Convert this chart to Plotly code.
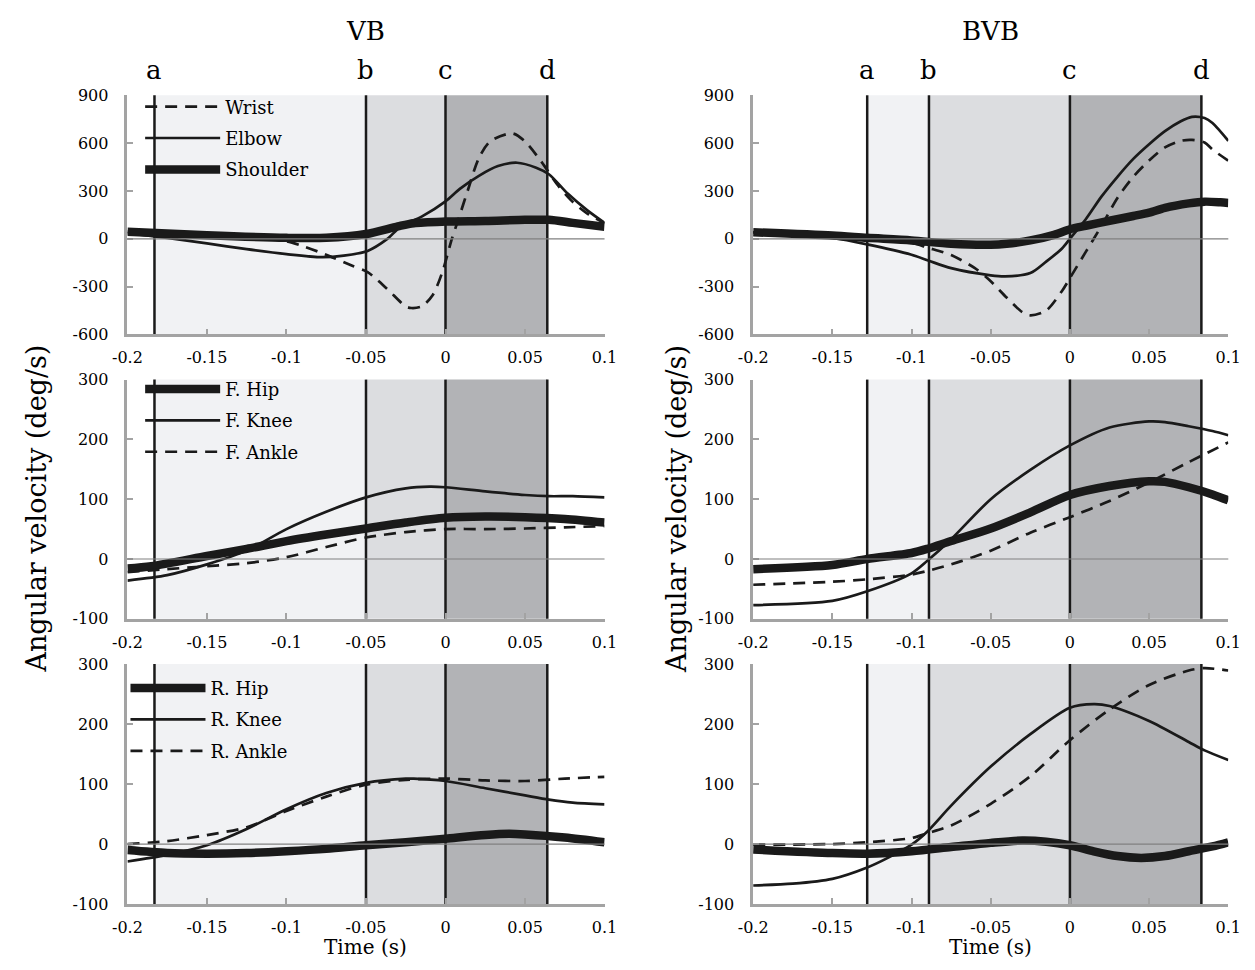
import plotly.graph_objects as go

# ---------------- data ----------------
# event times (a, b, c, d)
vb_events = [-0.183, -0.050, 0.0, 0.064]
bvb_events = [-0.128, -0.089, 0.0, 0.083]
event_labels = ["a", "b", "c", "d"]

# VB upper limb
vb_wrist_t = [-0.2, -0.175, -0.15, -0.125, -0.1, -0.09, -0.076, -0.059, -0.049, -0.037, -0.025, -0.0215,
              -0.015, -0.008, -0.002, 0.004, 0.008, 0.014, 0.021, 0.028, 0.042, 0.05, 0.06, 0.07, 0.079, 0.089, 0.1]
vb_wrist_v = [45, 35, 25, 12, -15, -45, -96, -168, -209, -311, -424, -434,
              -424, -352, -209, 0, 119, 303, 507, 610, 661, 610, 487, 344, 241, 160, 98]
vb_elbow_t = [-0.2, -0.175, -0.15, -0.125, -0.1, -0.078, -0.064, -0.049, -0.037, -0.028, -0.015, 0,
              0.009, 0.021, 0.033, 0.045, 0.057, 0.065, 0.077, 0.089, 0.1]
vb_elbow_v = [35, 5, -29, -65, -96, -115, -105, -76, -4, 78, 139, 235,
              313, 395, 456, 477, 446, 405, 282, 180, 100]
vb_shoulder_t = [-0.2, -0.15, -0.1, -0.075, -0.05, -0.03, -0.02, 0, 0.025, 0.05, 0.065, 0.08, 0.1]
vb_shoulder_v = [45, 22, 6, 6, 30, 78, 98, 108, 112, 119, 119, 100, 75]

# BVB upper limb
bvb_wrist_t = [-0.2, -0.15, -0.128, -0.1, -0.09, -0.075, -0.06, -0.05, -0.04, -0.03, -0.025, -0.015,
               -0.005, 0, 0.01, 0.02, 0.03, 0.04, 0.05, 0.06, 0.07, 0.077, 0.085, 0.09, 0.1]
bvb_wrist_v = [40, 20, 8, -25, -55, -102, -184, -266, -368, -460, -480, -450,
               -327, -246, -82, 82, 256, 389, 491, 573, 614, 620, 604, 560, 490]
bvb_elbow_t = [-0.2, -0.175, -0.15, -0.128, -0.1, -0.089, -0.075, -0.05, -0.041, -0.025, -0.015, -0.005,
               0, 0.01, 0.02, 0.03, 0.04, 0.05, 0.06, 0.07, 0.077, 0.085, 0.09, 0.1]
bvb_elbow_v = [41, 25, 5, -35, -100, -138, -184, -229, -236, -215, -143, -61,
               0, 123, 266, 389, 501, 593, 675, 737, 765, 757, 726, 614]
bvb_shoulder_t = [-0.2, -0.15, -0.128, -0.1, -0.075, -0.05, -0.04, -0.025, -0.01, 0, 0.01, 0.025, 0.04,
                  0.05, 0.06, 0.075, 0.085, 0.095, 0.1]
bvb_shoulder_v = [41, 20, 6, -10, -31, -37, -31, -10, 25, 60, 82, 113, 143,
                  164, 194, 222, 233, 229, 225]

# VB front leg
vb_fhip_t = [-0.2, -0.185, -0.15, -0.125, -0.1, -0.075, -0.05, -0.025, 0, 0.025, 0.05, 0.075, 0.1]
vb_fhip_v = [-16, -12, 5, 17, 30, 41, 51, 61, 69, 71, 70, 67, 61]
vb_fknee_t = [-0.2, -0.175, -0.15, -0.125, -0.1, -0.075, -0.05, -0.025, -0.01, 0, 0.025, 0.05, 0.065, 0.08, 0.1]
vb_fknee_v = [-36, -27, -9, 14, 50, 79, 103, 118, 121, 120, 113, 107, 105, 105, 103]
vb_fankle_t = [-0.2, -0.175, -0.15, -0.125, -0.1, -0.075, -0.05, -0.025, 0, 0.025, 0.05, 0.075, 0.1]
vb_fankle_v = [-22, -17, -12, -7, 3, 20, 36, 45, 50, 50, 51, 53, 55]

# BVB front leg
bvb_fhip_t = [-0.2, -0.15, -0.128, -0.1, -0.09, -0.075, -0.05, -0.025, 0, 0.025, 0.05, 0.06, 0.075, 0.09, 0.1]
bvb_fhip_v = [-17, -10, 0, 10, 17, 30, 51, 78, 107, 122, 130, 129, 120, 108, 98]
bvb_fknee_t = [-0.2, -0.15, -0.128, -0.1, -0.09, -0.075, -0.05, -0.025, 0, 0.025, 0.05, 0.06, 0.075, 0.09, 0.1]
bvb_fknee_v = [-77, -70, -54, -24, -3, 33, 100, 149, 190, 220, 230, 229, 222, 214, 207]
bvb_fankle_t = [-0.2, -0.15, -0.128, -0.1, -0.09, -0.075, -0.05, -0.025, 0, 0.025, 0.05, 0.075, 0.1]
bvb_fankle_v = [-43, -38, -34, -26, -20, -9, 14, 44, 70, 97, 128, 162, 195]

# VB rear leg
vb_rhip_t = [-0.2, -0.175, -0.15, -0.125, -0.1, -0.075, -0.05, -0.025, 0, 0.025, 0.04, 0.05, 0.075, 0.1]
vb_rhip_v = [-10, -15, -16, -15, -12, -8, -2, 3, 9, 15, 17, 16, 11, 3]
vb_rknee_t = [-0.2, -0.175, -0.15, -0.125, -0.1, -0.075, -0.05, -0.025, -0.02, 0, 0.025, 0.05, 0.065, 0.08, 0.1]
vb_rknee_v = [-29, -18, -2, 25, 58, 85, 102, 109, 109, 105, 93, 81, 74, 69, 66]
vb_rankle_t = [-0.2, -0.175, -0.15, -0.125, -0.1, -0.075, -0.05, -0.025, 0, 0.025, 0.05, 0.075, 0.1]
vb_rankle_v = [0, 5, 15, 28, 55, 79, 99, 107, 109, 106, 105, 109, 112]

# BVB rear leg
bvb_rhip_t = [-0.2, -0.15, -0.128, -0.1, -0.075, -0.05, -0.03, -0.015, 0, 0.015, 0.03, 0.045, 0.06, 0.075, 0.09, 0.1]
bvb_rhip_v = [-9, -15, -16, -12, -5, 2, 6, 4, -2, -12, -20, -23, -20, -12, -4, 3]
bvb_rknee_t = [-0.2, -0.175, -0.15, -0.128, -0.115, -0.1, -0.09, -0.075, -0.05, -0.025, 0, 0.015, 0.025,
               0.05, 0.075, 0.085, 0.1]
bvb_rknee_v = [-69, -66, -58, -39, -23, -1, 21, 64, 129, 183, 227, 233, 230, 205, 170, 156, 140]
bvb_rankle_t = [-0.2, -0.15, -0.128, -0.1, -0.09, -0.075, -0.05, -0.025, 0, 0.025, 0.05, 0.075, 0.085, 0.1]
bvb_rankle_v = [-1, 0, 3, 10, 18, 31, 67, 113, 173, 224, 265, 289, 293, 289]

x_tickvals = [-0.2, -0.15, -0.1, -0.05, 0, 0.05, 0.1]
x_ticktext = ["-0.2", "-0.15", "-0.1", "-0.05", "0", "0.05", "0.1"]
arm_tickvals = [-600, -300, 0, 300, 600, 900]
arm_ticktext = ["-600", "-300", "0", "300", "600", "900"]
leg_tickvals = [-100, 0, 100, 200, 300]
leg_ticktext = ["-100", "0", "100", "200", "300"]

# ---------------- styling ----------------
FONT = "DejaVu Serif"
W, H = 1255, 970
INK = "#1a1a1a"
AXIS_GREY = "#a3a3a3"
SHADES = ["#f1f2f4", "#dcdde0", "#b2b3b6"]

styles = {
    "thick": dict(color=INK, width=8.5),
    "thin": dict(color=INK, width=2.7),
    "dash": dict(color=INK, width=2.7, dash="12px,8px"),
}

col_dom = [[115 / W, 603 / W], [755 / W, 1241 / W]]
row_px = [(88, 332), (378, 622), (668, 913)]
row_dom = [[1 - b / H, 1 - t / H] for t, b in row_px]

fig = go.Figure()

panels = [
    (0, 0, [("Wrist", vb_wrist_t, vb_wrist_v, "dash"), ("Elbow", vb_elbow_t, vb_elbow_v, "thin"),
            ("Shoulder", vb_shoulder_t, vb_shoulder_v, "thick")], vb_events, "legend"),
    (0, 1, [("Wrist", bvb_wrist_t, bvb_wrist_v, "dash"), ("Elbow", bvb_elbow_t, bvb_elbow_v, "thin"),
            ("Shoulder", bvb_shoulder_t, bvb_shoulder_v, "thick")], bvb_events, None),
    (1, 0, [("F. Hip", vb_fhip_t, vb_fhip_v, "thick"), ("F. Knee", vb_fknee_t, vb_fknee_v, "thin"),
            ("F. Ankle", vb_fankle_t, vb_fankle_v, "dash")], vb_events, "legend2"),
    (1, 1, [("F. Hip", bvb_fhip_t, bvb_fhip_v, "thick"), ("F. Knee", bvb_fknee_t, bvb_fknee_v, "thin"),
            ("F. Ankle", bvb_fankle_t, bvb_fankle_v, "dash")], bvb_events, None),
    (2, 0, [("R. Hip", vb_rhip_t, vb_rhip_v, "thick"), ("R. Knee", vb_rknee_t, vb_rknee_v, "thin"),
            ("R. Ankle", vb_rankle_t, vb_rankle_v, "dash")], vb_events, "legend3"),
    (2, 1, [("R. Hip", bvb_rhip_t, bvb_rhip_v, "thick"), ("R. Knee", bvb_rknee_t, bvb_rknee_v, "thin"),
            ("R. Ankle", bvb_rankle_t, bvb_rankle_v, "dash")], bvb_events, None),
]

shapes = []
annotations = []
layout = {}

for i, (r, c, series, ev, leg) in enumerate(panels):
    n = i + 1
    xa = "x" if n == 1 else f"x{n}"
    ya = "y" if n == 1 else f"y{n}"
    xkey = "xaxis" if n == 1 else f"xaxis{n}"
    ykey = "yaxis" if n == 1 else f"yaxis{n}"
    for j, (name, t, v, st) in enumerate(series):
        fig.add_trace(go.Scatter(
            x=t, y=v, mode="lines", name=name, line=dict(shape="spline", smoothing=0.8, **styles[st]),
            xaxis=xa, yaxis=ya, showlegend=leg is not None, legend=leg if leg else "legend",
            legendgroup=f"{leg}_{j}" if leg else None, hoverinfo="skip"))
    for k in range(3):
        shapes.append(dict(type="rect", xref=xa, yref=f"{ya} domain", x0=ev[k], x1=ev[k + 1], y0=0, y1=1,
                           fillcolor=SHADES[k], line=dict(width=0), layer="below"))
    for e in ev:
        shapes.append(dict(type="line", xref=xa, yref=f"{ya} domain", x0=e, x1=e, y0=0, y1=1,
                           line=dict(color=INK, width=2.5), layer="below"))
    shapes.append(dict(type="line", xref=f"{xa} domain", yref=ya, x0=0, x1=1, y0=0, y1=0,
                       line=dict(color="#808080", width=1.2), layer="above"))
    arm = r == 0
    layout[xkey] = dict(domain=col_dom[c], anchor=ya, range=[-0.2, 0.1], tickvals=x_tickvals,
                        ticktext=x_ticktext, showline=True, linecolor=AXIS_GREY, linewidth=2.5,
                        ticks="inside", ticklen=6, tickwidth=2, tickcolor=AXIS_GREY, showgrid=False,
                        zeroline=False, ticklabelstandoff=7,
                        tickfont=dict(family=FONT, size=16, color="black"))
    layout[ykey] = dict(domain=row_dom[r], anchor=xa,
                        range=[-600, 900] if arm else [-100, 300],
                        tickvals=arm_tickvals if arm else leg_tickvals,
                        ticktext=arm_ticktext if arm else leg_ticktext,
                        showline=True, linecolor=AXIS_GREY, linewidth=2.5, ticks="inside", ticklen=6,
                        tickwidth=2, tickcolor=AXIS_GREY, showgrid=False, zeroline=False,
                        ticklabelstandoff=13,
                        tickfont=dict(family=FONT, size=16, color="black"))
    if r == 0:
        for e, lab in zip(ev, event_labels):
            annotations.append(dict(x=e, xref=xa, y=1 - 62 / H, yref="paper", text=lab, showarrow=False,
                                    xanchor="center", yanchor="middle",
                                    font=dict(family=FONT, size=26, color="black")))

for c, title in enumerate(["VB", "BVB"]):
    xc = (col_dom[c][0] + col_dom[c][1]) / 2
    annotations.append(dict(x=xc, y=1 - 22 / H, xref="paper", yref="paper", text=title, showarrow=False,
                            xanchor="center", yanchor="middle",
                            font=dict(family=FONT, size=26, color="black")))
    annotations.append(dict(x=xc, y=1 - 957 / H, xref="paper", yref="paper", text="Time (s)", showarrow=False,
                            xanchor="center", yanchor="middle",
                            font=dict(family=FONT, size=20, color="black")))
for xp in [22, 676]:
    annotations.append(dict(x=xp / W, y=1 - 510 / H, xref="paper", yref="paper",
                            text="Angular velocity (deg/s)", textangle=-90, showarrow=False,
                            xanchor="center", yanchor="middle",
                            font=dict(family=FONT, size=27, color="black")))

leg_common = dict(bgcolor="rgba(0,0,0,0)", font=dict(family=FONT, size=18, color="black"),
                  traceorder="grouped", tracegroupgap=5, itemwidth=75, xanchor="left", yanchor="top")

fig.update_layout(
    width=W, height=H, margin=dict(l=0, r=0, t=0, b=0),
    paper_bgcolor="white", plot_bgcolor="white",
    shapes=shapes, annotations=annotations,
    legend=dict(x=128 / W, y=1 - 81 / H, **leg_common),
    legend2=dict(x=128 / W, y=1 - 369 / H, **leg_common),
    legend3=dict(x=113 / W, y=1 - 674 / H, **leg_common),
    **layout,
)

fig.write_html("out.html")
